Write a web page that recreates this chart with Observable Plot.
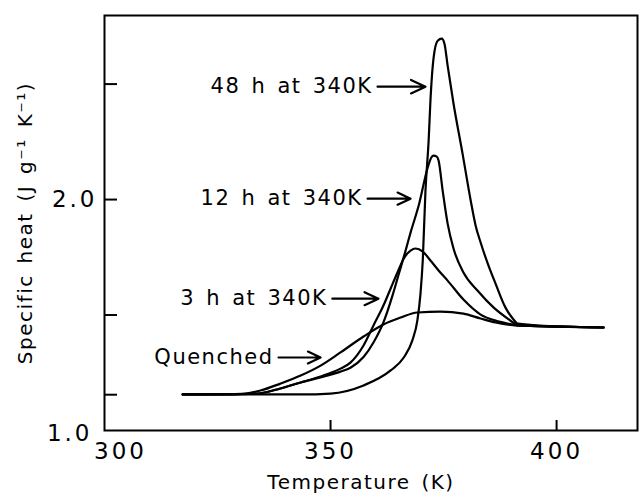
<!DOCTYPE html>
<html><head><meta charset="utf-8">
<script src="https://cdn.jsdelivr.net/npm/d3@7"></script>
<script src="https://cdn.jsdelivr.net/npm/@observablehq/plot@0.6"></script>
<style>
html,body{margin:0;padding:0;background:#fff;}
</style></head><body><div id="chart"></div>
<script>
// Series data: temperature (K) and specific heat (J g^-1 K^-1)
const seriesNames = ["48 h at 340K", "12 h at 340K", "3 h at 340K", "Quenched"];

const temp48 = [317.3, 343.4, 350.0, 357.3, 363.3, 366.2, 368.1, 369.2, 369.9, 370.4, 371.0, 371.7, 372.1, 372.8, 373.7, 374.6, 375.2, 375.9, 377.2, 379.2, 381.0, 382.1, 383.2, 384.7, 386.5, 388.7, 390.3, 391.4, 400.9, 410.4];
const cp48   = [1.156, 1.156, 1.160, 1.195, 1.260, 1.316, 1.390, 1.476, 1.593, 1.736, 2.039, 2.255, 2.429, 2.615, 2.688, 2.697, 2.675, 2.580, 2.416, 2.199, 1.996, 1.887, 1.814, 1.727, 1.636, 1.532, 1.485, 1.463, 1.450, 1.446];

const temp12 = [317.3, 333.8, 338.9, 343.4, 347.8, 352.2, 354.4, 357.3, 359.5, 361.7, 363.7, 365.0, 366.6, 367.7, 369.5, 371.5, 372.3, 372.8, 373.5, 373.9, 374.8, 375.9, 377.2, 379.4, 382.5, 386.1, 389.8, 391.4, 400.9, 410.4];
const cp12   = [1.156, 1.160, 1.182, 1.208, 1.230, 1.255, 1.272, 1.318, 1.381, 1.468, 1.584, 1.671, 1.779, 1.857, 1.974, 2.139, 2.182, 2.190, 2.186, 2.169, 2.039, 1.896, 1.788, 1.684, 1.606, 1.532, 1.476, 1.455, 1.450, 1.446];

const temp3 = [317.3, 333.8, 338.9, 343.4, 347.8, 352.2, 354.4, 357.3, 359.5, 361.7, 363.3, 364.8, 366.2, 367.7, 368.8, 370.4, 372.1, 373.9, 375.9, 379.4, 383.2, 386.5, 389.2, 391.4, 400.9, 410.4];
const cp3   = [1.156, 1.160, 1.182, 1.208, 1.234, 1.268, 1.294, 1.368, 1.455, 1.541, 1.615, 1.684, 1.745, 1.779, 1.788, 1.775, 1.736, 1.693, 1.649, 1.567, 1.502, 1.476, 1.463, 1.455, 1.450, 1.446];

const tempQ = [317.3, 328.5, 334.5, 338.9, 343.4, 347.8, 352.2, 357.3, 361.7, 365.5, 369.2, 374.3, 379.4, 383.2, 386.5, 391.4, 400.9, 410.4];
const cpQ   = [1.156, 1.156, 1.173, 1.203, 1.238, 1.281, 1.338, 1.407, 1.459, 1.489, 1.511, 1.515, 1.506, 1.485, 1.468, 1.455, 1.450, 1.446];

// Annotations (data units)
const annotLabels = ["48 h at 340K", "12 h at 340K", "3 h at 340K", "Quenched"];
const arrowFromT = [360.4, 358.2, 350.4, 338.5];
const arrowToT   = [371.0, 367.7, 360.6, 347.8];
const arrowC     = [2.489, 2.004, 1.571, 1.316];

// Axes
const xDomain = [300, 417.9];
const yDomain = [1.0, 2.797];
const xTickLabels = [350, 400];
const xCornerLabel = [300];
const xTickMarks = [350, 400];
const yTickLabels = [2.0];
const yCornerLabel = [1.0];
const yTickMarks = [1.155, 1.5, 2.0, 2.5];
const xTitle = "Temperature (K)";
const yTitle = "Specific heat (J g\u207B\u00B9 K\u207B\u00B9)";

const rows = [];
[[temp48, cp48], [temp12, cp12], [temp3, cp3], [tempQ, cpQ]].forEach(([t, c], i) => {
  t.forEach((v, j) => rows.push({series: seriesNames[i], T: v, C: c[j]}));
});
const annots = annotLabels.map((l, i) => ({label: l, x1: arrowFromT[i], x2: arrowToT[i], y: arrowC[i]}));

const chart = Plot.plot({
  width: 639,
  height: 496,
  marginLeft: 104,
  marginRight: 2,
  marginTop: 15,
  marginBottom: 66,
  style: {fontFamily: "'DejaVu Sans', sans-serif", color: "#000", background: "#fff"},
  x: {domain: xDomain},
  y: {domain: yDomain},
  marks: [
    Plot.frame({strokeWidth: 2}),
    Plot.tickX(xTickMarks, {x: d => d, insetTop: 405, strokeWidth: 2}),
    Plot.tickY(yTickMarks, {y: d => d, insetRight: 520, strokeWidth: 2}),
    Plot.axisX({ticks: xTickLabels, tickSize: 0, tickPadding: 12, fontSize: 23, label: null}),
    Plot.axisX({ticks: xCornerLabel, tickSize: 0, tickPadding: 12, fontSize: 23, dx: 16, label: null}),
    Plot.axisY({ticks: yTickLabels, tickSize: 0, tickPadding: 7, fontSize: 23, tickFormat: d3.format(".1f"), label: null}),
    Plot.axisY({ticks: yCornerLabel, tickSize: 0, tickPadding: 12, fontSize: 23, dy: 3, tickFormat: d3.format(".1f"), label: null}),
    Plot.line(rows, {x: "T", y: "C", z: "series", curve: "monotone-x", stroke: "#000", strokeWidth: 2.2}),
    Plot.arrow(annots, {x1: "x1", x2: "x2", y1: "y", y2: "y", stroke: "#000", strokeWidth: 2.2, headLength: 11, headAngle: 50}),
    Plot.text(annots, {x: "x1", y: "y", text: "label", textAnchor: "end", dx: -5, fontSize: 21}),
    Plot.text([xTitle], {frameAnchor: "bottom", textAnchor: "middle", dx: -10, dy: 58, fontSize: 20}),
    Plot.text([yTitle], {frameAnchor: "left", textAnchor: "middle", dx: -79, rotate: -90, fontSize: 20})
  ]
});
document.getElementById("chart").appendChild(chart);
const svg = d3.select(chart);
svg.selectAll('g[aria-label="text"] text').style("letter-spacing", "1.5px").style("word-spacing", "3px");
svg.selectAll('g[aria-label="x-axis tick label"] text, g[aria-label="y-axis tick label"] text').style("letter-spacing", "3px");
</script>
</body></html>
